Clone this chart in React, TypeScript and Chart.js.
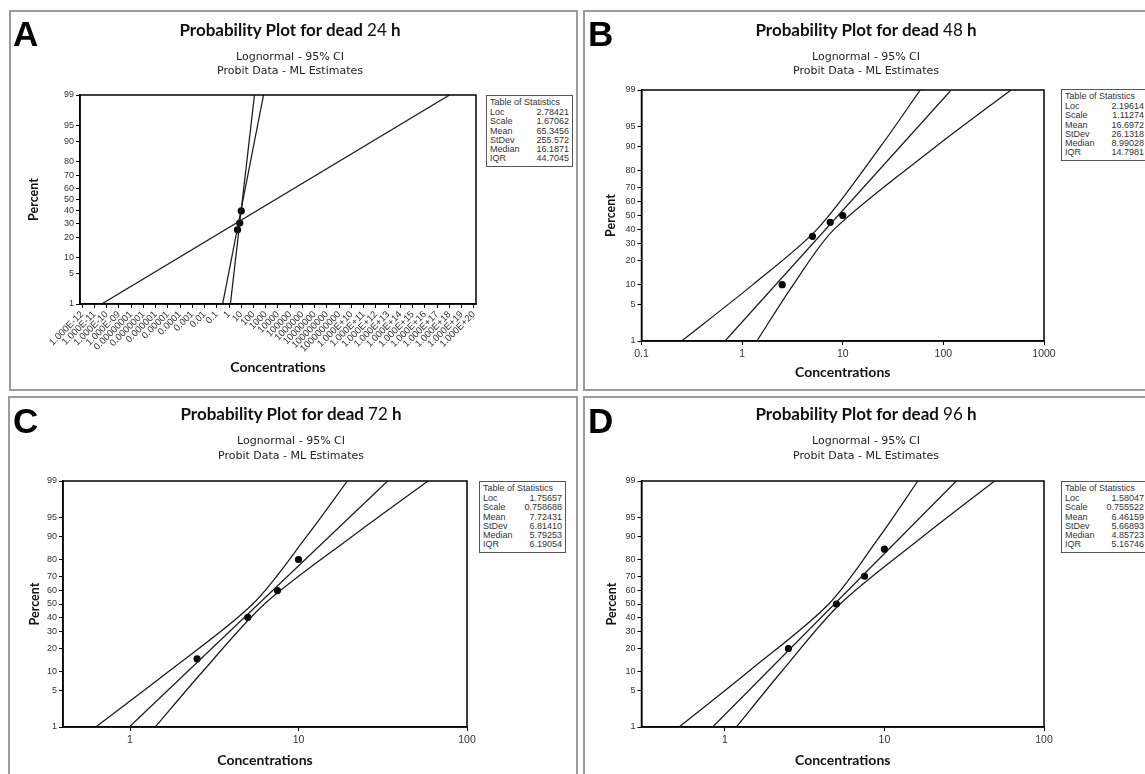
import React, { useEffect, useRef } from 'react';
import { Chart, registerables } from 'chart.js';

Chart.register(...registerables);

// ---------------- shared axis data ----------------
const percentTicks = [1, 5, 10, 20, 30, 40, 50, 60, 70, 80, 90, 95, 99];
const statNames = ['Loc', 'Scale', 'Mean', 'StDev', 'Median', 'IQR'];

// ---------------- Panel A : 24 h ----------------
const hoursA = '24';
const pointConcA = [5, 7.5, 10];
const pointPctA = [25, 30, 40];
const fitConcA = [0.3, 660];
const fitPctA = [1, 99];
const steepConcA = [1.3, 120];
const steepPctA = [1, 99];
const wideConcA = [4e-11, 1e18];
const widePctA = [1, 99];
const xTicksA = [
  1e-12, 1e-11, 1e-10, 1e-9, 1e-8, 1e-7, 1e-6, 1e-5, 1e-4, 1e-3, 1e-2, 1e-1,
  1, 1e1, 1e2, 1e3, 1e4, 1e5, 1e6, 1e7, 1e8, 1e9, 1e10, 1e11, 1e12, 1e13,
  1e14, 1e15, 1e16, 1e17, 1e18, 1e19, 1e20,
];
const xLabelsA = [
  '1.000E-12', '1.000E-11', '1.000E-10', '1.000E-09', '0.00000001', '0.0000001',
  '0.000001', '0.00001', '0.0001', '0.001', '0.01', '0.1', '1', '10', '100',
  '1000', '10000', '100000', '1000000', '10000000', '100000000', '1000000000',
  '1.000E+10', '1.000E+11', '1.000E+12', '1.000E+13', '1.000E+14', '1.000E+15',
  '1.000E+16', '1.000E+17', '1.000E+18', '1.000E+19', '1.000E+20',
];
const statsA = ['2.78421', '1.67062', '65.3456', '255.572', '16.1871', '44.7045'];

// ---------------- Panel B : 48 h ----------------
const hoursB = '48';
const pointConcB = [2.5, 5, 7.5, 10];
const pointPctB = [10, 35, 45, 50];
const fitConcB = [0.676, 119.6];
const fitPctB = [1, 99];
const ciPctB = [1, 10, 40, 90, 99];
const lowerConcB = [0.25, 1.28, 5.57, 23.8, 59];
const upperConcB = [1.4, 3.23, 8.25, 85, 470];
const xTicksB = [0.1, 1, 10, 100, 1000];
const xLabelsB = ['0.1', '1', '10', '100', '1000'];
const statsB = ['2.19614', '1.11274', '16.6972', '26.1318', '8.99028', '14.7981'];

// ---------------- Panel C : 72 h ----------------
const hoursC = '72';
const pointConcC = [2.5, 5, 7.5, 10];
const pointPctC = [15, 40, 60, 80];
const fitConcC = [0.99, 33.8];
const fitPctC = [1, 99];
const ciPctC = [1, 10, 50, 90, 99];
const lowerConcC = [0.626, 1.686, 5.35, 11.2, 19.5];
const upperConcC = [1.41, 2.69, 6.28, 20.9, 58.7];
const xTicksC = [1, 10, 100];
const xLabelsC = ['1', '10', '100'];
const statsC = ['1.75657', '0.758688', '7.72431', '6.81410', '5.79253', '6.19054'];

// ---------------- Panel D : 96 h ----------------
const hoursD = '96';
const pointConcD = [2.5, 5, 7.5, 10];
const pointPctD = [20, 50, 70, 85];
const fitConcD = [0.838, 28.2];
const fitPctD = [1, 99];
const ciPctD = [1, 10, 50, 90, 99];
const lowerConcD = [0.516, 1.4, 4.48, 9.37, 16.2];
const upperConcD = [1.18, 2.26, 5.27, 17.5, 49];
const xTicksD = [1, 10, 100];
const xLabelsD = ['1', '10', '100'];
const statsD = ['1.58047', '0.755522', '6.46159', '5.66893', '4.85723', '5.16746'];

// ---------------- probit (normal quantile) used as the y-axis transform ----------------
function probit(p: number): number {
  const a = [-39.69683028665376, 220.9460984245205, -275.9285104469687, 138.357751867269, -30.66479806614716, 2.506628277459239];
  const b = [-54.47609879822406, 161.5858368580409, -155.6989798598866, 66.80131188771972, -13.28068155692257];
  const c = [-0.007784894002430293, -0.3223964580411365, -2.400758277161838, -2.549732539343734, 4.374664141464968, 2.938163982698783];
  const d = [0.007784695709041462, 0.3224671290700398, 2.445134137142996, 3.754408661907416];
  const plow = 0.02425;
  if (p < plow) {
    const q = Math.sqrt(-2 * Math.log(p));
    return (((((c[0] * q + c[1]) * q + c[2]) * q + c[3]) * q + c[4]) * q + c[5]) /
      ((((d[0] * q + d[1]) * q + d[2]) * q + d[3]) * q + 1);
  }
  if (p <= 1 - plow) {
    const q = p - 0.5;
    const r = q * q;
    return ((((((a[0] * r + a[1]) * r + a[2]) * r + a[3]) * r + a[4]) * r + a[5]) * q) /
      (((((b[0] * r + b[1]) * r + b[2]) * r + b[3]) * r + b[4]) * r + 1);
  }
  const q = Math.sqrt(-2 * Math.log(1 - p));
  return -(((((c[0] * q + c[1]) * q + c[2]) * q + c[3]) * q + c[4]) * q + c[5]) /
    ((((d[0] * q + d[1]) * q + d[2]) * q + d[3]) * q + 1);
}

const toXY = (conc: number[], pct: number[]) => conc.map((c, i) => ({ x: c, y: probit(pct[i] / 100) }));

type Series = { conc: number[]; pct: number[] };
type Spec = {
  letter: string;
  hours: string;
  lines: Series[];
  points: Series;
  xTicks: number[];
  xLabels: string[];
  stats: string[];
  L: {
    frame: { x: number; y: number; w: number; h: number };
    plot: { l: number; t: number; r: number; b: number };
    yAxisW: number;
    xAxisH: number;
    xMin: number;
    xMax: number;
    rotate: boolean;
    letterPos: { x: number; y: number };
    titleCx: number;
    titleCy: number;
    sub1Cy: number;
    sub2Cy: number;
    table: { x: number; y: number };
  };
};

const specs: Spec[] = [
  {
    letter: 'A', hours: hoursA,
    lines: [
      { conc: wideConcA, pct: widePctA },
      { conc: steepConcA, pct: steepPctA },
      { conc: fitConcA, pct: fitPctA },
    ],
    points: { conc: pointConcA, pct: pointPctA },
    xTicks: xTicksA, xLabels: xLabelsA, stats: statsA,
    L: {
      frame: { x: 9, y: 10, w: 569, h: 381 }, plot: { l: 80, t: 95, r: 476, b: 304 },
      yAxisW: 53.5, xAxisH: 73.4, xMin: 6.855e-13, xMax: 1.459e20, rotate: true,
      letterPos: { x: 13, y: 16 }, titleCx: 290, titleCy: 30, sub1Cy: 57, sub2Cy: 71,
      table: { x: 486, y: 95 },
    },
  },
  {
    letter: 'B', hours: hoursB,
    lines: [
      { conc: lowerConcB, pct: ciPctB },
      { conc: upperConcB, pct: ciPctB },
      { conc: fitConcB, pct: fitPctB },
    ],
    points: { conc: pointConcB, pct: pointPctB },
    xTicks: xTicksB, xLabels: xLabelsB, stats: statsB,
    L: {
      frame: { x: 583, y: 10, w: 575, h: 381 }, plot: { l: 641.5, t: 90, r: 1044, b: 341 },
      yAxisW: 38, xAxisH: 41.4, xMin: 0.1, xMax: 1000, rotate: false,
      letterPos: { x: 588, y: 16 }, titleCx: 866, titleCy: 30, sub1Cy: 57, sub2Cy: 71,
      table: { x: 1061, y: 89 },
    },
  },
  {
    letter: 'C', hours: hoursC,
    lines: [
      { conc: lowerConcC, pct: ciPctC },
      { conc: upperConcC, pct: ciPctC },
      { conc: fitConcC, pct: fitPctC },
    ],
    points: { conc: pointConcC, pct: pointPctC },
    xTicks: xTicksC, xLabels: xLabelsC, stats: statsC,
    L: {
      frame: { x: 8, y: 396, w: 570, h: 390 }, plot: { l: 63, t: 481, r: 467, b: 727 },
      yAxisW: 35.5, xAxisH: 43.4, xMin: 0.4, xMax: 100, rotate: false,
      letterPos: { x: 13, y: 403 }, titleCx: 291, titleCy: 414, sub1Cy: 441, sub2Cy: 456,
      table: { x: 479, y: 481 },
    },
  },
  {
    letter: 'D', hours: hoursD,
    lines: [
      { conc: lowerConcD, pct: ciPctD },
      { conc: upperConcD, pct: ciPctD },
      { conc: fitConcD, pct: fitPctD },
    ],
    points: { conc: pointConcD, pct: pointPctD },
    xTicks: xTicksD, xLabels: xLabelsD, stats: statsD,
    L: {
      frame: { x: 583, y: 396, w: 575, h: 390 }, plot: { l: 641.5, t: 481, r: 1044, b: 727 },
      yAxisW: 37, xAxisH: 43.4, xMin: 0.334, xMax: 100, rotate: false,
      letterPos: { x: 588, y: 403 }, titleCx: 866, titleCy: 414, sub1Cy: 441, sub2Cy: 456,
      table: { x: 1061, y: 481 },
    },
  },
];

const boxPlugin = {
  id: 'plotBox',
  afterDraw(chart: any) {
    const { ctx, chartArea: a } = chart;
    ctx.save();
    ctx.strokeStyle = '#000';
    ctx.lineWidth = 1.5;
    ctx.strokeRect(a.left, a.top, a.right - a.left, a.bottom - a.top);
    ctx.restore();
  },
};

const TICK_FONT = 'Liberation Sans';

function Panel({ spec }: { spec: Spec }) {
  const ref = useRef<HTMLCanvasElement>(null);
  const { L } = spec;
  useEffect(() => {
    const { frame, plot } = L;
    const lineSets = spec.lines.map((s) => ({
      data: toXY(s.conc, s.pct),
      showLine: true,
      pointRadius: 0,
      borderColor: '#1a1a1a',
      borderWidth: 1.25,
      tension: s.conc.length > 2 ? 0.3 : 0,
      fill: false,
    }));
    const pointSet = {
      data: toXY(spec.points.conc, spec.points.pct),
      showLine: false,
      pointRadius: 3.6,
      pointBackgroundColor: '#000',
      pointBorderColor: '#000',
      pointBorderWidth: 0,
    };
    const rot = L.rotate ? 45 : 0;
    const chart = new Chart(ref.current as HTMLCanvasElement, {
      type: 'scatter',
      data: { datasets: [...lineSets, pointSet] as any },
      options: {
        responsive: false,
        animation: false,
        events: [],
        layout: {
          padding: {
            left: plot.l - frame.x - L.yAxisW,
            top: plot.t - frame.y,
            right: frame.x + frame.w - plot.r,
            bottom: frame.y + frame.h - plot.b - L.xAxisH,
          },
        },
        plugins: { legend: { display: false }, tooltip: { enabled: false }, title: { display: false } },
        scales: {
          x: {
            type: 'logarithmic',
            min: L.xMin,
            max: L.xMax,
            afterBuildTicks: (s: any) => {
              s.ticks = spec.xTicks.map((v) => ({ value: v }));
            },
            afterFit: (s: any) => {
              s.height = L.xAxisH;
            },
            ticks: {
              autoSkip: false,
              minRotation: rot,
              maxRotation: rot,
              padding: L.rotate ? 1 : 3,
              color: '#333',
              font: { family: TICK_FONT, size: L.rotate ? 9.5 : 10.5 },
              callback: (_v: any, i: number) => spec.xLabels[i],
            },
            grid: { drawOnChartArea: false, drawTicks: true, tickLength: 4, color: '#000', lineWidth: 1 },
            border: { display: true, color: '#000', width: 1.5 },
            title: {
              display: true,
              text: 'Concentrations',
              color: '#111',
              font: { family: 'Lato', weight: 'bold', size: 14 },
              padding: { top: 0, bottom: 2 },
            },
          } as any,
          y: {
            type: 'linear',
            min: probit(0.01),
            max: probit(0.99),
            afterBuildTicks: (s: any) => {
              s.ticks = percentTicks.map((p) => ({ value: probit(p / 100) }));
            },
            afterFit: (s: any) => {
              s.width = L.yAxisW;
            },
            ticks: {
              autoSkip: false,
              padding: 2,
              color: '#333',
              font: { family: TICK_FONT, size: 9 },
              callback: (_v: any, i: number) => String(percentTicks[i]),
            },
            grid: { drawOnChartArea: false, drawTicks: true, tickLength: 4, color: '#000', lineWidth: 1 },
            border: { display: true, color: '#000', width: 1.5 },
            title: {
              display: true,
              text: 'Percent',
              color: '#111',
              font: { family: 'Lato', weight: 'bold', size: 12.5 },
              padding: { top: 0, bottom: 0 },
            },
          } as any,
        },
      },
      plugins: [boxPlugin],
    });
    return () => chart.destroy();
  }, []);

  const f = L.frame;
  return (
    <>
      <div
        style={{
          position: 'absolute', left: f.x, top: f.y, width: f.w, height: f.h,
          border: '2px solid #9a9a9a', boxSizing: 'border-box',
        }}
      />
      <canvas
        ref={ref}
        width={f.w}
        height={f.h}
        style={{ position: 'absolute', left: f.x, top: f.y, width: f.w, height: f.h }}
      />
      <div
        style={{
          position: 'absolute', left: L.letterPos.x, top: L.letterPos.y,
          font: 'bold 35px "Liberation Sans"', lineHeight: '35px', color: '#000',
        }}
      >
        {spec.letter}
      </div>
      <div
        style={{
          position: 'absolute', left: L.titleCx - 200, width: 400, top: L.titleCy - 10,
          textAlign: 'center', font: 'bold 17px Lato', lineHeight: '20px', color: '#111',
          whiteSpace: 'nowrap',
        }}
      >
        Probability Plot for dead <span style={{ fontWeight: 'normal' }}>{spec.hours}</span> h
      </div>
      <div
        style={{
          position: 'absolute', left: L.titleCx - 200, width: 400, top: L.sub1Cy - 7,
          textAlign: 'center', font: '11px "DejaVu Sans"', lineHeight: '14px', color: '#222',
        }}
      >
        Lognormal - 95% CI
      </div>
      <div
        style={{
          position: 'absolute', left: L.titleCx - 200, width: 400, top: L.sub2Cy - 7,
          textAlign: 'center', font: '11px "DejaVu Sans"', lineHeight: '14px', color: '#222',
        }}
      >
        Probit Data - ML Estimates
      </div>
      <div
        style={{
          position: 'absolute', left: L.table.x, top: L.table.y, width: 87, height: 72,
          border: '1px solid #555', boxSizing: 'border-box', background: '#fff',
          font: '9px "Liberation Sans"', color: '#333', padding: '1px 3px 0 3px',
        }}
      >
        <div style={{ lineHeight: '11px', whiteSpace: 'nowrap' }}>Table of Statistics</div>
        {statNames.map((n, i) => (
          <div key={n} style={{ display: 'flex', justifyContent: 'space-between', lineHeight: '9.3px' }}>
            <span>{n}</span>
            <span>{spec.stats[i]}</span>
          </div>
        ))}
      </div>
    </>
  );
}

export default function App() {
  return (
    <div
      style={{
        position: 'fixed', left: 0, top: 0, width: 1145, height: 774,
        overflow: 'hidden', background: '#fff',
      }}
    >
      {specs.map((s) => (
        <Panel key={s.letter} spec={s} />
      ))}
    </div>
  );
}
